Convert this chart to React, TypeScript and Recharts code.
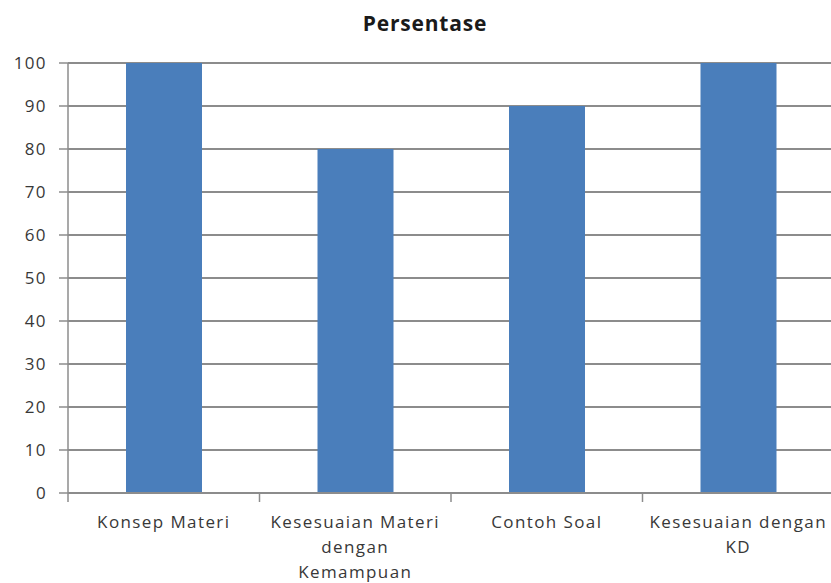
import { Bar, BarChart, CartesianGrid, XAxis, YAxis } from "recharts";

const categories = [
  "Konsep Materi",
  "Kesesuaian Materi dengan Kemampuan",
  "Contoh Soal",
  "Kesesuaian dengan KD"
];
const tickLabels = [
  ["Konsep Materi"],
  ["Kesesuaian Materi", "dengan", "Kemampuan"],
  ["Contoh Soal"],
  ["Kesesuaian dengan", "KD"]
];
const persentase = [100, 80, 90, 100];
const yTicks = [0, 10, 20, 30, 40, 50, 60, 70, 80, 90, 100];

const data = categories.map((name, i) => ({ name, persentase: persentase[i] }));

const FONT = "'Open Sans', sans-serif";
const AXIS = "#8c8c8c";

// category labels, plus tick marks on the boundaries between categories
function CategoryTick(props: any) {
  const { x, y, payload, index } = props;
  const half = payload?.offset ?? 95.75;
  const lines = tickLabels[index] ?? [String(payload.value)];
  return (
    <g>
      <line x1={x - half} x2={x - half} y1={y} y2={y + 9} stroke={AXIS} strokeWidth={1.5} />
      {index === categories.length - 1 && (
        <line x1={x + half} x2={x + half} y1={y} y2={y + 9} stroke={AXIS} strokeWidth={1.5} />
      )}
      <text
        x={x}
        y={y + 35}
        textAnchor="middle"
        fontFamily={FONT}
        fontSize={17}
        letterSpacing={1.4}
        fill="#383838"
      >
        {lines.map((line, i) => (
          <tspan key={line} x={x} dy={i === 0 ? 0 : 25}>
            {line}
          </tspan>
        ))}
      </text>
    </g>
  );
}

export default function App() {
  return (
    <div
      style={{
        position: "absolute",
        left: 0,
        top: 0,
        width: 831,
        height: 583,
        overflow: "hidden",
        background: "#fff"
      }}
    >
      <div
        style={{
          position: "absolute",
          left: 345,
          top: 9,
          width: 160,
          textAlign: "center",
          fontFamily: FONT,
          fontWeight: 700,
          fontSize: 21,
          letterSpacing: 0.8,
          color: "#1a1a1a",
          lineHeight: "28px"
        }}
      >
        Persentase
      </div>
      <BarChart
        width={840}
        height={583}
        data={data}
        margin={{ top: 63, right: 6, left: 0, bottom: 0 }}
        barSize={76}
      >
        <CartesianGrid vertical={false} stroke={AXIS} strokeWidth={1.8} />
        <XAxis
          dataKey="name"
          height={90}
          axisLine={{ stroke: AXIS, strokeWidth: 1.8 }}
          tickLine={false}
          tickSize={0}
          tickMargin={0}
          interval={0}
          tick={<CategoryTick />}
        />
        <YAxis
          width={68}
          domain={[0, 100]}
          ticks={yTicks}
          interval={0}
          axisLine={{ stroke: AXIS, strokeWidth: 1.5 }}
          tickLine={{ stroke: AXIS, strokeWidth: 1.5 }}
          tickSize={9}
          tickMargin={12}
          tick={{ fontFamily: FONT, fontSize: 17, fill: "#383838", letterSpacing: 1.4 }}
        />
        <Bar dataKey="persentase" fill="#4a7ebb" isAnimationActive={false} />
      </BarChart>
    </div>
  );
}
